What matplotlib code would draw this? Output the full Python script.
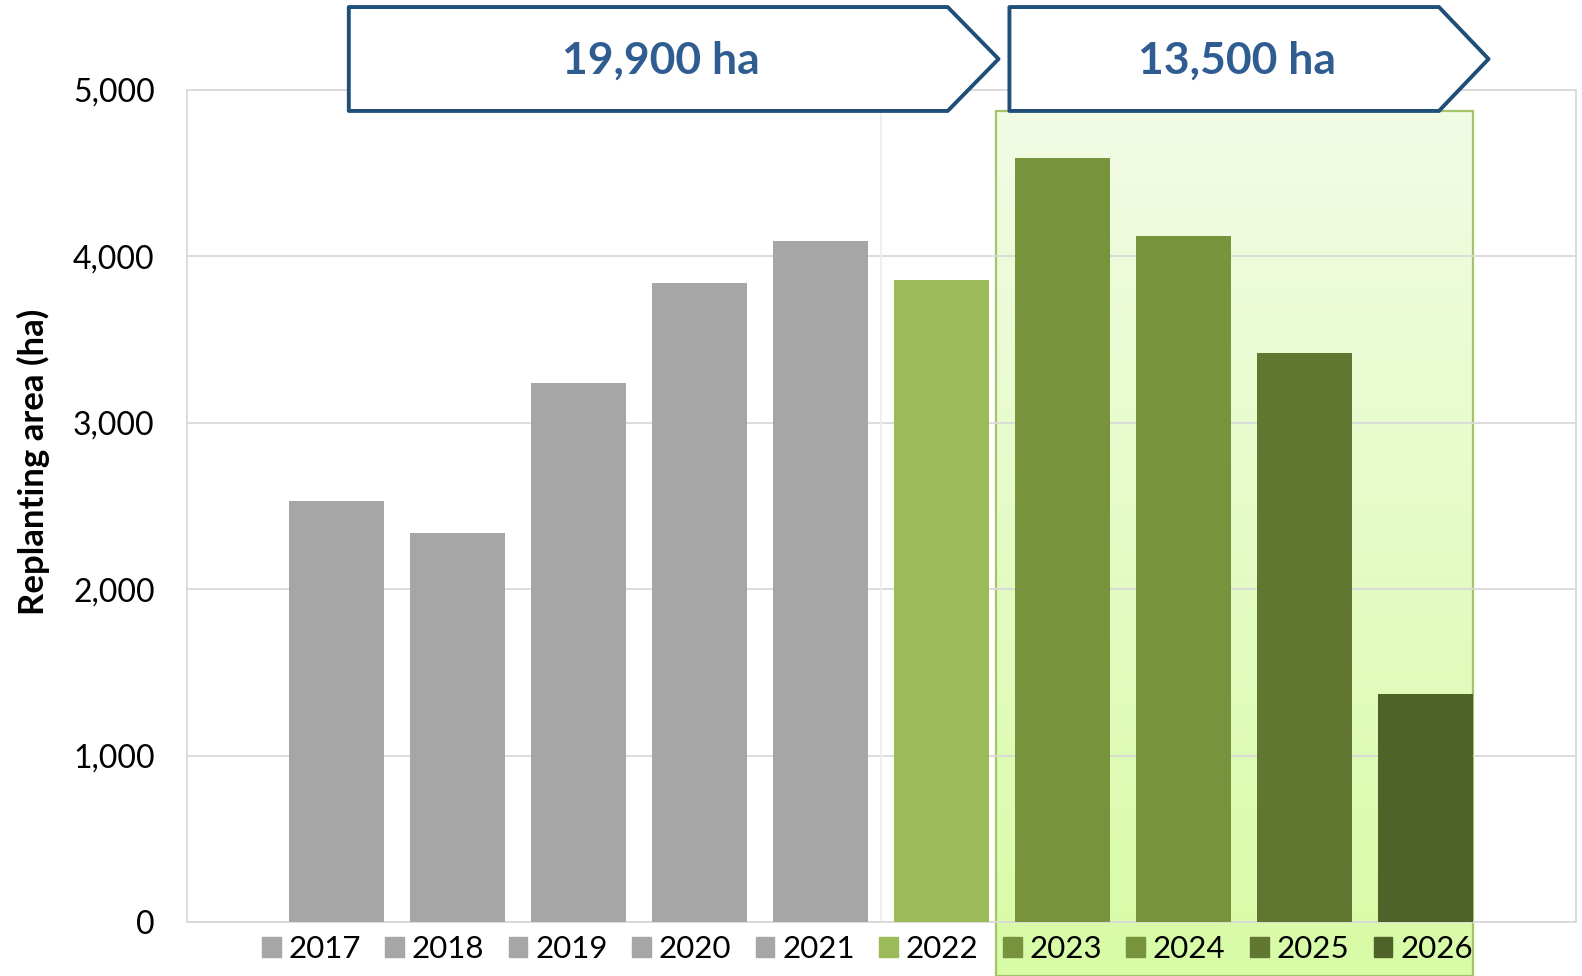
import numpy as np
import matplotlib
matplotlib.use('Agg')
import matplotlib.pyplot as plt
from matplotlib.patches import Polygon, Patch, Rectangle
from matplotlib.colors import LinearSegmentedColormap
from matplotlib.ticker import FuncFormatter

plt.rcParams['font.family'] = ['Lato', 'DejaVu Sans']

years = ['2017', '2018', '2019', '2020', '2021', '2022', '2023', '2024', '2025', '2026']
areas = [2530, 2340, 3240, 3840, 4090, 3860, 4590, 4120, 3420, 1370]
bar_colors = ['#a6a6a6'] * 5 + ['#9bbb59', '#77933c', '#77933c', '#617731', '#4f6228']
period_labels = ['19,900 ha', '13,500 ha']

blue = '#1f4e79'
text_blue = '#2f5d91'
grid_color = '#d9d9d9'

fig = plt.figure(figsize=(15.82, 9.76), dpi=100)
ax = fig.add_axes([0.118, 0.055, 0.878, 0.853])

x = np.arange(len(years))
bar_w = 0.79
ax.bar(x, areas, width=bar_w, color=bar_colors, zorder=3)

ax.set_xlim(-1.24, len(years) - 1 + 1.24)
ax.set_ylim(0, 5000)
ax.set_yticks(range(0, 5001, 1000))
ax.yaxis.set_major_formatter(FuncFormatter(lambda v, _: f'{v:,.0f}'))
ax.set_xticks([])
ax.tick_params(axis='y', length=0, pad=23, labelsize=23)
for s in ax.spines.values():
    s.set_color(grid_color)
    s.set_linewidth(1.3)
ax.grid(axis='y', color=grid_color, lw=1.3)
ax.set_axisbelow(True)
# faint divider between 2021 and 2022
ax.axvline(4.5, color='#eeeeee', lw=1.3, zorder=0.6)

# shaded forecast box (2023-2026)
box_left = 5.45
box_right = x[-1] + bar_w / 2
box_top = 4873
y_bot = ax.transData.inverted().transform((0, 0))[1]
cm = LinearSegmentedColormap.from_list('g', ['#f2fce5', '#d8fba6'])
grad = np.linspace(0, 1, 256).reshape(-1, 1)
ax.imshow(grad, extent=(box_left, box_right, y_bot, box_top), cmap=cm,
          aspect='auto', zorder=0.3, clip_on=False, interpolation='bilinear')
ax.add_patch(Rectangle((box_left, y_bot), box_right - box_left, box_top - y_bot,
                       fill=False, ec='#a5c46a', lw=1.6, clip_on=False, zorder=0.4))
ax.set_xlim(-1.24, len(years) - 1 + 1.24)
ax.set_ylim(0, 5000)

# period arrows
arrow_y0, arrow_y1 = 4873, 5497
arrows = [(0.10, 5.05, 5.47), (5.56, 9.11, 9.52)]
text_x = [2.68, 7.44]
for (x0, x1, tip), tx, lab in zip(arrows, text_x, period_labels):
    ym = (arrow_y0 + arrow_y1) / 2
    poly = Polygon([(x0, arrow_y0), (x1, arrow_y0), (tip, ym), (x1, arrow_y1), (x0, arrow_y1)],
                   closed=True, fc='white', ec=blue, lw=2.8, joinstyle='round',
                   clip_on=False, zorder=6)
    ax.add_patch(poly)
    ax.text(tx, ym - 10, lab, ha='center', va='center', fontsize=32,
            fontweight='bold', color=text_blue, zorder=7, clip_on=False)

handles = [Patch(color=c) for c in bar_colors]
ax.legend(handles, years, ncol=10, loc='center', bbox_to_anchor=(0.49, -0.032),
          frameon=False, fontsize=22.5, handlelength=0.6, handleheight=0.6,
          handletextpad=0.25, columnspacing=0.78, borderaxespad=0, borderpad=0)

fig.text(33 / 1582, 0.527, 'Replanting area (ha)', rotation=90, ha='center', va='center',
         fontsize=25, fontweight='bold')

fig.savefig('out.png', dpi=100)
